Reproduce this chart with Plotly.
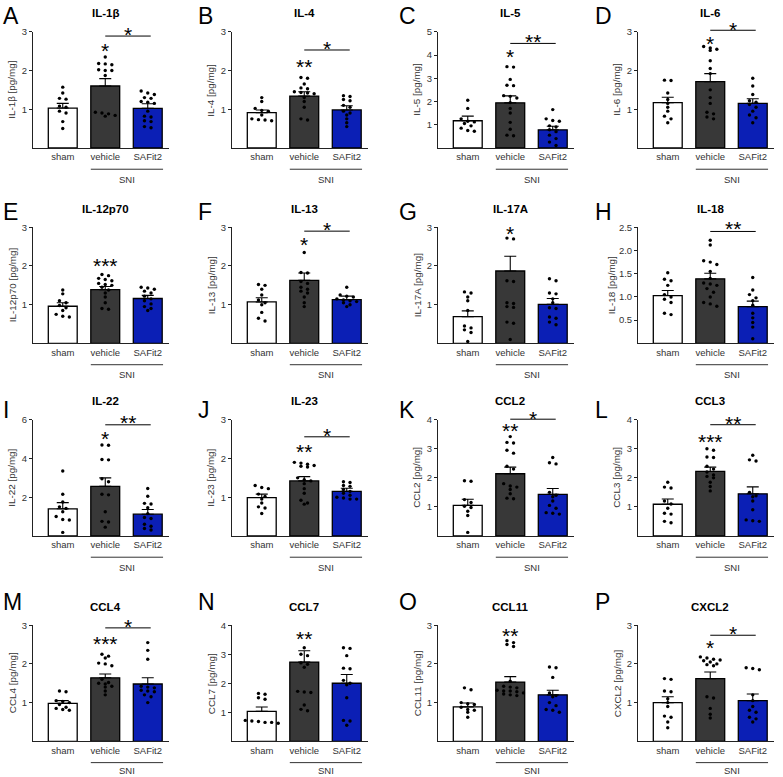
import plotly.graph_objects as go

W, H = 783, 777
FONT = "Liberation Sans, Arial, sans-serif"

groups = ["sham", "vehicle", "SAFit2"]
letters = list("ABCDEFGHIJKLMNOP")
titles = ["IL-1β", "IL-4", "IL-5", "IL-6", "IL-12p70", "IL-13", "IL-17A", "IL-18",
          "IL-22", "IL-23", "CCL2", "CCL3", "CCL4", "CCL7", "CCL11", "CXCL2"]
ylabels = [t + " [pg/mg]" for t in titles]
ymax = [3, 3, 5, 3, 3, 3, 3, 2.5, 6, 3, 4, 4, 3, 4, 3, 3]
ystep = [1, 1, 1, 1, 1, 1, 1, 0.5, 2, 1, 1, 1, 1, 1, 1, 1]

mean_sham = [1.03, 0.91, 1.17, 1.17, 0.96, 1.07, 0.69, 1.03, 1.40, 0.99, 1.05, 1.09, 0.98, 1.03, 0.89, 1.00]
sem_sham = [0.12, 0.07, 0.20, 0.14, 0.09, 0.11, 0.15, 0.11, 0.32, 0.09, 0.21, 0.18, 0.07, 0.15, 0.10, 0.15]
mean_vehicle = [1.60, 1.34, 1.94, 1.71, 1.39, 1.63, 1.87, 1.39, 2.56, 1.42, 2.14, 2.22, 1.64, 2.73, 1.53, 1.62]
sem_vehicle = [0.19, 0.11, 0.30, 0.21, 0.08, 0.19, 0.38, 0.12, 0.44, 0.11, 0.23, 0.15, 0.10, 0.39, 0.14, 0.17]
mean_safit2 = [1.02, 0.98, 0.78, 1.15, 1.16, 1.13, 1.01, 0.79, 1.12, 1.15, 1.43, 1.45, 1.48, 2.00, 1.20, 1.05]
sem_safit2 = [0.12, 0.11, 0.15, 0.12, 0.08, 0.09, 0.15, 0.12, 0.24, 0.08, 0.20, 0.24, 0.16, 0.30, 0.12, 0.17]

pts_sham = [
    [1.57, 1.42, 1.28, 1.26, 1.08, 1.05, 0.95, 0.9, 0.68, 0.5],
    [1.3, 1.2, 1.02, 0.97, 0.95, 0.85, 0.75, 0.73, 0.72, 0.7],
    [2.05, 1.7, 1.25, 1.15, 1.12, 1.05, 0.95, 0.85, 0.75, 0.72],
    [1.75, 1.74, 1.42, 1.25, 1.15, 1.05, 0.95, 0.82, 0.75, 0.65],
    [1.38, 1.28, 1.1, 1.05, 0.98, 0.92, 0.85, 0.75, 0.7, 0.68],
    [1.52, 1.5, 1.4, 1.25, 1.12, 1.05, 1.0, 0.8, 0.65, 0.58],
    [1.33, 1.3, 1.2, 1.1, 0.85, 0.45, 0.4, 0.35, 0.28, 0.05],
    [1.52, 1.38, 1.35, 1.25, 1.05, 1.0, 0.95, 0.88, 0.65, 0.62],
    [3.35, 2.15, 1.75, 1.5, 1.42, 1.25, 1.0, 0.85, 0.82, 0.18],
    [1.3, 1.25, 1.22, 1.08, 1.02, 0.95, 0.85, 0.75, 0.72, 0.58],
    [1.9, 1.88, 1.25, 1.15, 1.02, 0.98, 0.85, 0.7, 0.12],
    [1.85, 1.68, 1.65, 1.2, 1.1, 0.95, 0.78, 0.75, 0.5, 0.45],
    [1.3, 1.28, 1.05, 1.03, 1.0, 0.95, 0.88, 0.85, 0.82, 0.8],
    [1.65, 1.62, 1.5, 1.45, 0.72, 0.7, 0.68, 0.65, 0.65, 0.62],
    [1.38, 1.33, 1.0, 0.97, 0.95, 0.88, 0.82, 0.8, 0.75, 0.62],
    [1.62, 1.6, 1.3, 1.28, 1.1, 1.0, 0.9, 0.65, 0.62, 0.5, 0.35],
]
pts_vehicle = [
    [2.35, 2.18, 2.17, 2.15, 2.02, 2.0, 2.0, 1.87, 0.92, 0.9, 0.88, 0.84, 0.82],
    [1.82, 1.8, 1.65, 1.55, 1.53, 1.45, 1.43, 1.42, 1.4, 1.3, 1.2, 1.05, 0.75, 0.72],
    [3.5, 3.48, 2.95, 2.7, 2.68, 2.25, 2.22, 2.15, 1.95, 1.7, 1.5, 1.1, 0.8, 0.55, 0.52],
    [2.62, 2.58, 2.55, 2.52, 2.25, 2.05, 1.92, 1.5, 1.3, 1.15, 0.92, 0.88, 0.8, 0.75],
    [1.78, 1.75, 1.68, 1.65, 1.62, 1.55, 1.52, 1.5, 1.45, 1.38, 1.3, 1.2, 1.05, 0.9, 0.88],
    [2.35, 1.83, 1.82, 1.6, 1.55, 1.45, 1.4, 1.35, 1.3, 1.2, 1.05, 0.95],
    [2.72, 2.7, 1.62, 1.6, 1.05, 1.03, 0.95, 0.93, 0.55, 0.52, 0.1],
    [2.22, 2.12, 1.78, 1.75, 1.7, 1.55, 1.4, 1.3, 1.28, 1.25, 1.18, 1.1, 1.0, 0.88, 0.85, 0.8],
    [4.7, 4.68, 3.95, 3.93, 2.95, 2.8, 2.15, 2.12, 1.25, 0.75, 0.72, 0.45],
    [1.9, 1.88, 1.85, 1.82, 1.8, 1.78, 1.5, 1.45, 1.42, 1.35, 1.22, 1.1, 0.92, 0.85, 0.82],
    [3.42, 3.22, 3.2, 2.95, 2.85, 2.4, 2.3, 1.8, 1.72, 1.68, 1.6, 1.45, 1.3, 1.28],
    [3.0, 2.95, 2.72, 2.7, 2.4, 2.3, 2.2, 2.1, 2.05, 2.0, 1.85, 1.7, 1.55],
    [2.25, 2.2, 2.15, 2.02, 2.0, 1.95, 1.6, 1.52, 1.5, 1.48, 1.42, 1.4, 1.3, 1.2],
    [3.22, 3.0, 2.95, 2.7, 2.65, 2.55, 1.72, 1.7, 1.68, 1.25, 1.1, 1.05],
    [2.6, 2.55, 2.5, 2.45, 1.55, 1.42, 1.4, 1.38, 1.32, 1.3, 1.3, 1.28, 1.25, 1.22, 1.2, 1.18],
    [2.18, 2.15, 2.12, 2.1, 2.08, 2.05, 2.0, 1.98, 1.95, 1.15, 1.12, 0.85, 0.7, 0.6],
]
pts_safit2 = [
    [1.47, 1.42, 1.38, 1.3, 1.28, 1.2, 1.18, 1.15, 0.95, 0.82, 0.8, 0.7, 0.68, 0.55, 0.52],
    [1.35, 1.33, 1.25, 1.22, 1.1, 1.05, 0.95, 0.9, 0.85, 0.75, 0.65, 0.55],
    [1.65, 1.25, 1.18, 1.15, 0.95, 0.9, 0.78, 0.7, 0.55, 0.4, 0.25, 0.1],
    [1.8, 1.6, 1.38, 1.22, 1.18, 1.12, 1.05, 0.95, 0.85, 0.78, 0.65],
    [1.45, 1.43, 1.4, 1.35, 1.3, 1.22, 1.15, 1.1, 1.02, 0.95, 0.9, 0.85],
    [1.45, 1.25, 1.22, 1.2, 1.15, 1.12, 1.1, 1.08, 1.05, 1.0, 0.95],
    [1.67, 1.62, 1.3, 1.28, 1.15, 1.05, 0.92, 0.9, 0.68, 0.65, 0.55, 0.48],
    [1.42, 1.15, 1.05, 0.98, 0.92, 0.82, 0.65, 0.55, 0.45, 0.35, 0.1],
    [2.45, 2.05, 1.68, 1.65, 1.45, 1.15, 0.95, 0.9, 0.6, 0.5, 0.38, 0.3],
    [1.4, 1.38, 1.3, 1.28, 1.2, 1.15, 1.1, 1.05, 1.0, 0.98, 0.95, 0.95],
    [2.7, 2.52, 2.48, 1.5, 1.4, 1.35, 1.2, 1.05, 0.95, 0.8, 0.78, 0.75],
    [2.78, 2.62, 2.58, 1.5, 1.38, 1.35, 1.2, 0.9, 0.55, 0.52, 0.5],
    [2.55, 2.35, 2.12, 1.42, 1.4, 1.38, 1.32, 1.3, 1.28, 1.2, 1.15, 1.0],
    [3.22, 3.2, 2.95, 2.52, 2.5, 2.1, 2.0, 1.95, 1.5, 0.72, 0.7, 0.55],
    [1.92, 1.9, 1.65, 1.25, 1.18, 1.15, 1.0, 0.92, 0.82, 0.8, 0.75],
    [1.9, 1.88, 1.85, 1.2, 1.05, 0.9, 0.8, 0.75, 0.62, 0.58, 0.5],
]

# significance vs sham (above vehicle bar)
star_vehicle = ["*", "**", "*", "*", "***", "*", "*", "", "*", "**", "**", "***", "***", "**", "**", "*"]
star_vehicle_y = [2.63, 2.2, 4.1, 2.8, 2.12, 2.66, 2.94, 0, 5.23, 2.29, 3.77, 3.4, 2.62, 3.68, 2.83, 2.53]
# vehicle vs SAFit2 bracket
bracket_star = ["*", "*", "**", "*", "", "*", "", "**", "**", "*", "*", "**", "*", "", "", "*"]
bracket_y = [2.89, 2.53, 4.5, 3.04, 0, 2.9, 0, 2.41, 5.74, 2.56, 4.02, 3.83, 2.93, 0, 0, 2.74]
bracket_star_y = [3.04, 2.68, 4.74, 3.16, 0, 3.04, 0, 2.55, 6.08, 2.7, 4.19, 4.0, 3.07, 0, 0, 2.9]

bar_colors = ["#ffffff", "#383838", "#0b1fb5"]
AXC = "#222222"
TXC = "#333333"

col_x0 = [33, 232, 438, 638]
row_bottom = [143, 340, 534, 741]
title_y = [7.5, 205, 398, 606]
letter_y = [10, 208, 407, 601]
letter_x = [1, 196, 397, 593]
sni_text_off = [31.5, 31.5, 31.5, 29.5]
AX_H = 117
AX_W = 136
XMIN, XMAX = -0.70, 2.50
PPX = AX_W / (XMAX - XMIN)
STAR_SIZE = 21
STAR_SHIFT = -4


def swarm(vals, ym):
    ppu = AX_H / ym
    order = sorted(range(len(vals)), key=lambda k: -vals[k])
    offs = [0.0] * len(vals)
    rows = []
    for k in order:
        if rows and (vals[rows[-1][0]] - vals[k]) * ppu < 3.8:
            rows[-1].append(k)
        else:
            rows.append([k])
    for row in rows:
        n = len(row)
        for j, k in enumerate(row):
            offs[k] = (j - (n - 1) / 2) * 0.155
    return offs


fig = go.Figure()
annotations = []
shapes = []
layout_axes = {}

for i in range(16):
    r, c = divmod(i, 4)
    x0 = col_x0[c]
    yb = row_bottom[r]
    sfx = "" if i == 0 else str(i + 1)
    xa, ya = "x" + sfx, "y" + sfx

    def px_x(v):
        return (x0 + (v - XMIN) * PPX) / W

    def px_y(v):
        return 1 - (yb - v / ymax[i] * AX_H) / H

    fig.add_trace(go.Bar(
        x=[0, 1, 2], y=[mean_sham[i], mean_vehicle[i], mean_safit2[i]], width=0.68,
        marker=dict(color=bar_colors, line=dict(color="black", width=1.3)),
        error_y=dict(type="data", symmetric=False,
                     array=[sem_sham[i], sem_vehicle[i], sem_safit2[i]], arrayminus=[0, 0, 0],
                     color="black", thickness=1.1, width=6),
        xaxis=xa, yaxis=ya, showlegend=False, hoverinfo="skip"))

    xs, ys = [], []
    for g, pts in enumerate([pts_sham[i], pts_vehicle[i], pts_safit2[i]]):
        offs = swarm(pts, ymax[i])
        xs += [g + o for o in offs]
        ys += list(pts)
    fig.add_trace(go.Scatter(x=xs, y=ys, mode="markers",
                             marker=dict(color="black", size=3.4, line=dict(width=0)),
                             cliponaxis=False, xaxis=xa, yaxis=ya, showlegend=False,
                             hoverinfo="skip"))

    n_t = int(round(ymax[i] / ystep[i]))
    tvals = [ystep[i] * (k + 1) for k in range(n_t)]
    fmt = ".1f" if ystep[i] < 1 else "d"
    layout_axes["xaxis" + sfx] = dict(
        domain=[x0 / W, (x0 + AX_W) / W], range=[XMIN, XMAX], anchor=ya,
        showline=True, linecolor=AXC, linewidth=1, ticks="", showgrid=False, zeroline=False,
        tickvals=[0, 1, 2], ticktext=groups, tickfont=dict(family=FONT, size=9.5, color=TXC),
        fixedrange=True)
    layout_axes["yaxis" + sfx] = dict(
        domain=[1 - yb / H, 1 - (yb - AX_H) / H], range=[0, ymax[i]], anchor=xa,
        showline=True, linecolor=AXC, linewidth=1, ticks="outside", ticklen=3, tickwidth=1,
        tickcolor=AXC, showgrid=False, zeroline=False, tickvals=tvals, tickformat=fmt,
        tickfont=dict(family=FONT, size=9.5, color=TXC), fixedrange=True)

    # y title
    off = 27 if ystep[i] < 1 else 21
    annotations.append(dict(text=ylabels[i], xref="paper", yref="paper",
                            x=(x0 - off) / W, y=1 - (yb - AX_H / 2) / H, textangle=-90,
                            showarrow=False, xanchor="center", yanchor="middle",
                            font=dict(family=FONT, size=9.9, color=TXC)))
    # panel title
    annotations.append(dict(text="<b>" + titles[i] + "</b>", xref="paper", yref="paper",
                            x=px_x(1), y=1 - title_y[r] / H, showarrow=False,
                            xanchor="center", yanchor="middle",
                            font=dict(family=FONT, size=11.5, color="black")))
    # panel letter
    annotations.append(dict(text=letters[i], xref="paper", yref="paper",
                            x=letter_x[c] / W, y=1 - letter_y[r] / H, showarrow=False,
                            xanchor="left", yanchor="middle",
                            font=dict(family=FONT, size=23, color="black")))
    # SNI line + label
    shapes.append(dict(type="line", xref="paper", yref="paper",
                       x0=px_x(0.66), x1=px_x(2.36),
                       y0=1 - (yb + 21.5) / H, y1=1 - (yb + 21.5) / H,
                       line=dict(color=TXC, width=1)))
    annotations.append(dict(text="SNI", xref="paper", yref="paper",
                            x=px_x(1.51), y=1 - (yb + sni_text_off[r]) / H, showarrow=False,
                            xanchor="center", yanchor="middle",
                            font=dict(family=FONT, size=9.5, color=TXC)))
    # stars above vehicle
    if star_vehicle[i]:
        annotations.append(dict(text=star_vehicle[i], xref="paper", yref="paper",
                                x=px_x(1), y=px_y(star_vehicle_y[i]), yshift=STAR_SHIFT,
                                showarrow=False, xanchor="center", yanchor="middle",
                                font=dict(family=FONT, size=STAR_SIZE, color="black")))
    if bracket_star[i]:
        yy = px_y(bracket_y[i])
        shapes.append(dict(type="line", xref="paper", yref="paper",
                           x0=px_x(1.0), x1=px_x(2.07), y0=yy, y1=yy,
                           line=dict(color="black", width=1)))
        annotations.append(dict(text=bracket_star[i], xref="paper", yref="paper",
                                x=px_x(1.53), y=px_y(bracket_star_y[i]), yshift=STAR_SHIFT,
                                showarrow=False, xanchor="center", yanchor="middle",
                                font=dict(family=FONT, size=STAR_SIZE, color="black")))

fig.update_layout(width=W, height=H, margin=dict(l=0, r=0, t=0, b=0),
                  paper_bgcolor="white", plot_bgcolor="white", bargap=0,
                  font=dict(family=FONT), annotations=annotations, shapes=shapes,
                  hovermode=False, **layout_axes)
fig.write_html("out.html", config={"displayModeBar": False, "staticPlot": True},
               post_script="document.body.style.margin='0';document.body.style.padding='0';")
